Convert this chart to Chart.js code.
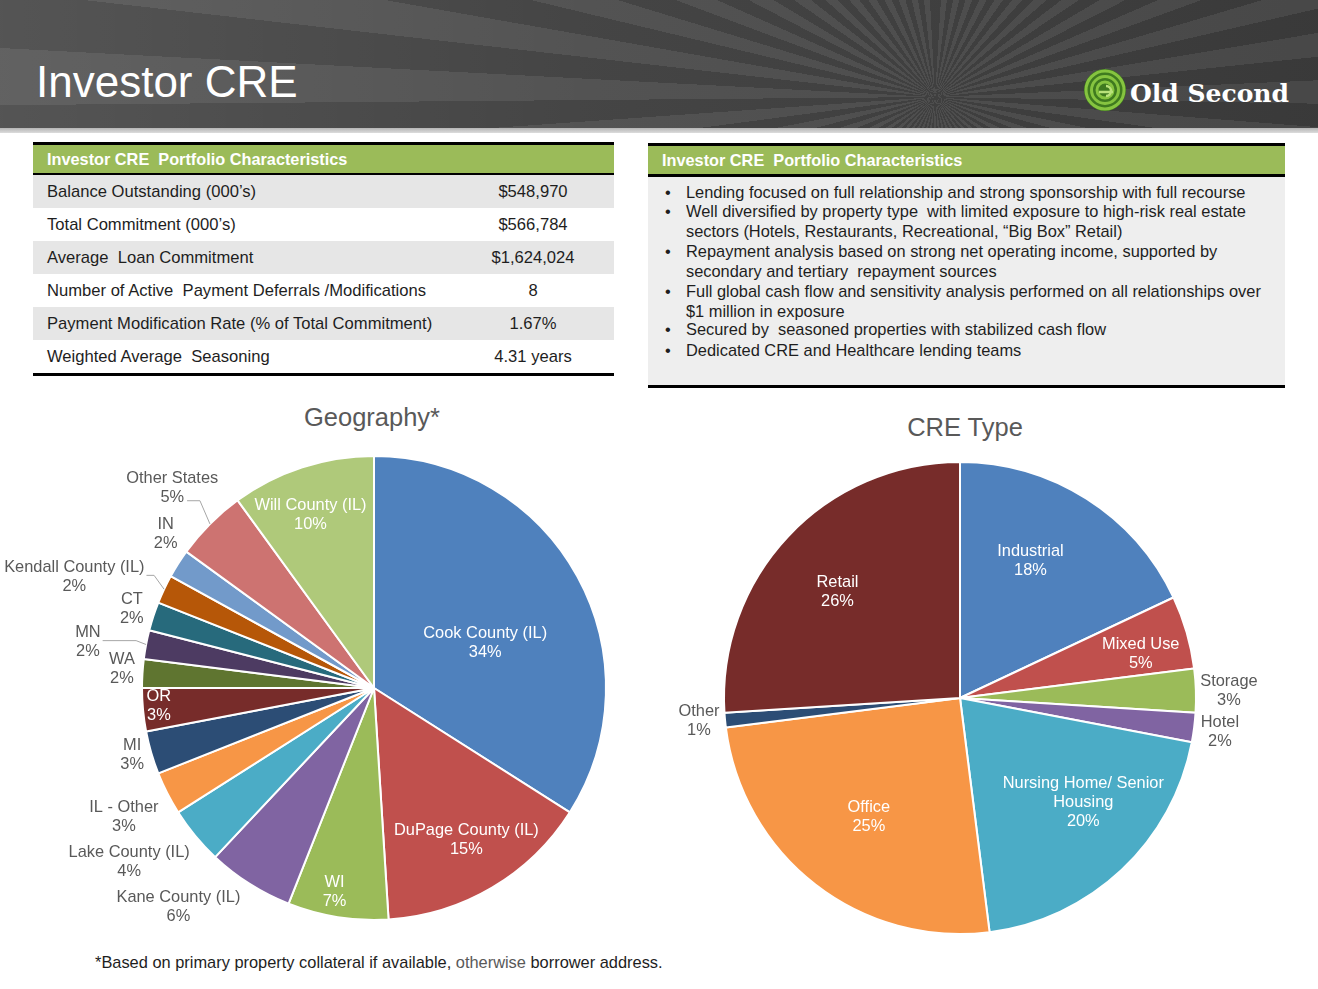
<!DOCTYPE html>
<html><head><meta charset="utf-8">
<script src="https://cdn.jsdelivr.net/npm/chart.js@4.4.0/dist/chart.umd.min.js"></script>
<style>
html,body{margin:0;padding:0}
body{width:1318px;height:989px;position:relative;background:#fff;font-family:"Liberation Sans",Arial,sans-serif;overflow:hidden}
.abs{position:absolute}
#header{left:0;top:0;width:1318px;height:128px;
 background:
  linear-gradient(90deg, rgba(255,255,255,0.12) 0%, rgba(255,255,255,0.04) 45%, rgba(0,0,0,0.06) 100%),
  repeating-conic-gradient(from 0deg at 935px 97px, #3d3d3d 0deg 3.5deg, #4c4c4c 3.5deg 7deg);}
#hline{left:0;top:128px;width:1318px;height:5px;background:linear-gradient(#b5b5b5,#dcdcdc)}
#title{left:36px;top:55px;color:#fff;font-size:44px;line-height:54px}
#logoText{left:1130px;top:76px;color:#fff;font-family:"DejaVu Serif",serif;font-weight:bold;font-size:25px;line-height:36px}
.bar{background:#000}
.green{background:#9BBB59;color:#fff;font-weight:bold;font-size:16.3px;line-height:28px;white-space:pre}
.row{height:33px;line-height:33px;font-size:16.6px;color:#1e1e1e}
.row .v{position:absolute;left:400px;width:200px;text-align:center}
.bl{font-size:16.4px;line-height:19.5px;color:#1e1e1e;left:686px;white-space:nowrap}
.bl .dot{position:absolute;left:-21px}
.ptitle{color:#595959;font-size:25.5px;line-height:30px;text-align:center;width:300px}
#foot{left:95px;top:951px;font-size:16.4px;line-height:22px;color:#1e1e1e;white-space:nowrap}
</style></head>
<body>
<div id="header" class="abs"></div>
<div id="hline" class="abs"></div>
<div id="title" class="abs">Investor CRE</div>
<svg class="abs" style="left:1082px;top:66px" width="48" height="48" viewBox="0 0 48 48">
 <circle cx="23" cy="24" r="21" fill="#3f7a1f"/>
 <circle cx="23" cy="24" r="19" fill="none" stroke="#86c440" stroke-width="3"/>
 <circle cx="23" cy="24" r="13.5" fill="none" stroke="#86c440" stroke-width="3"/>
 <circle cx="23" cy="24" r="8" fill="none" stroke="#86c440" stroke-width="3"/>
 <path d="M17 26 H31 M24 20 a5 5 0 1 1 0 10" fill="none" stroke="#b9e27a" stroke-width="2.5"/>
</svg>
<div id="logoText" class="abs">Old Second</div>

<!-- left table -->
<div class="abs bar" style="left:33px;top:142px;width:581px;height:3px"></div>
<div class="abs green" style="left:33px;top:145px;width:567px;height:28px;padding-left:14px" id="ltHead"></div>
<div class="abs bar" style="left:33px;top:173px;width:581px;height:2px"></div>
<div class="abs" id="ltRows" style="left:33px;top:175px;width:581px"></div>
<div class="abs bar" style="left:33px;top:373px;width:581px;height:3px"></div>

<!-- right box -->
<div class="abs bar" style="left:648px;top:143px;width:637px;height:3px"></div>
<div class="abs green" style="left:648px;top:146px;width:623px;height:28px;padding-left:14px" id="rtHead"></div>
<div class="abs bar" style="left:648px;top:174px;width:637px;height:3px"></div>
<div class="abs" style="left:648px;top:177px;width:637px;height:208px;background:#eeeeee"></div>
<div id="bullets"></div>
<div class="abs bar" style="left:648px;top:385px;width:637px;height:3px"></div>

<div class="abs ptitle" id="geoTitle" style="left:222px;top:402px"></div>
<div class="abs ptitle" id="creTitle" style="left:815px;top:412px"></div>

<canvas id="geo" class="abs" width="748" height="486" style="left:0;top:445px"></canvas>
<canvas id="cre" class="abs" width="660" height="494" style="left:630px;top:451px"></canvas>

<div id="foot" class="abs">*Based on primary property collateral if available, <span style="color:#595959">otherwise</span> borrower address.</div>

<script>
// ---------- data ----------
const tableTitle = 'Investor CRE  Portfolio Characteristics';
const tableLabels = ["Balance Outstanding (000\u2019s)","Total Commitment (000\u2019s)","Average  Loan Commitment","Number of Active  Payment Deferrals /Modifications","Payment Modification Rate (% of Total Commitment)","Weighted Average  Seasoning"];
const tableValues = ["$548,970","$566,784","$1,624,024","8","1.67%","4.31 years"];
const bulletLines = [
  ["Lending focused on full relationship and strong sponsorship with full recourse"],
  ["Well diversified by property type  with limited exposure to high-risk real estate","sectors (Hotels, Restaurants, Recreational, \u201cBig Box\u201d Retail)"],
  ["Repayment analysis based on strong net operating income, supported by","secondary and tertiary  repayment sources"],
  ["Full global cash flow and sensitivity analysis performed on all relationships over","$1 million in exposure"],
  ["Secured by  seasoned properties with stabilized cash flow"],
  ["Dedicated CRE and Healthcare lending teams"]
];
const geoTitleText = 'Geography*';
const geoCategories = ['Cook County (IL)','DuPage County (IL)','WI','Kane County (IL)','Lake County (IL)','IL - Other','MI','OR','WA','MN','CT','Kendall County (IL)','IN','Other States','Will County (IL)'];
const geoValues = [34,15,7,6,4,3,3,3,2,2,2,2,2,5,10];
const creTitleText = 'CRE Type';
const creCategories = ['Industrial','Mixed Use','Storage','Hotel','Nursing Home/ Senior Housing','Office','Other','Retail'];
const creValues = [18,5,3,2,20,25,1,26];

// ---------- styles ----------
const geoColors = ['#4F81BD','#C0504D','#9BBB59','#8064A2','#4BACC6','#F79646','#2C4D75','#772C2A','#5F7530','#4D3B62','#276A7C','#B65708','#729ACA','#CD7371','#AFC97A'];
const creColors = ['#4F81BD','#C0504D','#9BBB59','#8064A2','#4BACC6','#F79646','#2C4D75','#772C2A'];
const geoLabelRadius = [0.52,0.76,0.89,1.26,1.29,1.21,1.08,0.93,1.09,1.25,1.10,1.38,1.12,1.23,0.80];
const geoLabelShift  = [6,-1,2,9.6,4.5,0,1,1,1,-1.4,0.4,-4.6,4.3,0,-2];
const geoInside = [0,1,2,7,14];
const geoLeaders = {9:'center',11:'center',13:'last'};
const creLabelRadius = [0.66,0.79,1.14,1.11,0.68,0.63,1.11,0.69];
const creLabelShift  = [-5.5,2,0,0,-7,0,0.6,-2];
const creInside = [0,1,4,5,7];

// ---------- html parts ----------
document.getElementById('ltHead').textContent = tableTitle;
document.getElementById('rtHead').textContent = tableTitle;
document.getElementById('geoTitle').textContent = geoTitleText;
document.getElementById('creTitle').textContent = creTitleText;
const rows = document.getElementById('ltRows');
tableLabels.forEach((l,i)=>{
  const d = document.createElement('div');
  d.className='row'; d.style.position='relative';
  d.style.background = i%2===0 ? '#e6e6e6' : '#ffffff';
  d.innerHTML = '<span style="padding-left:14px;white-space:pre">'+l+'</span><span class="v">'+tableValues[i]+'</span>';
  rows.appendChild(d);
});
const bulletCenters = [193,212,252,292,330,351];
const bw = document.getElementById('bullets');
bulletLines.forEach((ls,i)=>{
  const d = document.createElement('div');
  d.className='abs bl';
  d.style.top = (bulletCenters[i]-9.75)+'px';
  d.innerHTML = '<span class="dot">\u2022</span>' + ls.map(s=>s.replace(/  /g,'&nbsp; ')).join('<br>');
  bw.appendChild(d);
});

// ---------- label plugin ----------
function wrapText(ctx, text, maxW){
  const words = text.split(' '); const out=[]; let cur='';
  words.forEach(w=>{
    const t = cur ? cur+' '+w : w;
    if (cur && ctx.measureText(t).width > maxW){ out.push(cur); cur=w; } else cur=t;
  });
  if (cur) out.push(cur);
  return out;
}
const sliceLabels = {
  id:'sliceLabels',
  afterDatasetsDraw(chart, args, o){
    const ctx = chart.ctx;
    const meta = chart.getDatasetMeta(0);
    const data = chart.data.datasets[0].data;
    ctx.save();
    ctx.font = o.font;
    ctx.textAlign='center'; ctx.textBaseline='middle';
    meta.data.forEach((arc,i)=>{
      const p = arc.getProps(['x','y','startAngle','endAngle','outerRadius'], true);
      const mid = (p.startAngle+p.endAngle)/2;
      const ang = mid + o.shift[i]*Math.PI/180;
      const r = p.outerRadius*o.radius[i];
      const lx = p.x + Math.cos(ang)*r, ly = p.y + Math.sin(ang)*r;
      const lines = wrapText(ctx, chart.data.labels[i], o.maxWidth).concat([data[i]+'%']);
      const lh = o.lineHeight;
      const y0 = ly - (lines.length-1)*lh/2;
      ctx.fillStyle = o.inside.includes(i) ? '#ffffff' : '#595959';
      lines.forEach((t,k)=>ctx.fillText(t, lx, y0+k*lh+1.5));
      const ld = o.leaders && o.leaders[i];
      if (ld){
        let sx, sy;
        if (ld==='last'){ const k=lines.length-1; sx = lx + ctx.measureText(lines[k]).width/2 + 3; sy = y0+k*lh+5; }
        else { sx = lx + Math.max(...lines.map(t=>ctx.measureText(t).width))/2 + 2; sy = ly; }
        const ex = p.x + Math.cos(mid)*p.outerRadius, ey = p.y + Math.sin(mid)*p.outerRadius;
        ctx.strokeStyle='#a6a6a6'; ctx.lineWidth=1;
        ctx.beginPath(); ctx.moveTo(sx,sy); ctx.lineTo(Math.max(sx, ex-10), sy); ctx.lineTo(ex,ey); ctx.stroke();
      }
    });
    ctx.restore();
  }
};
Chart.register(sliceLabels);

function makePie(id, labels, values, colors, lab, pad){
  new Chart(document.getElementById(id), {
    type:'pie',
    data:{labels, datasets:[{data:values, backgroundColor:colors, borderColor:'#ffffff', borderWidth:2}]},
    options:{responsive:false, animation:false, layout:{padding:pad},
      plugins:{legend:{display:false}, tooltip:{enabled:false}, sliceLabels:lab}}
  });
}
makePie('geo', geoCategories, geoValues, geoColors,
  {font:'16.4px "Liberation Sans", Arial, sans-serif', lineHeight:19, radius:geoLabelRadius, shift:geoLabelShift, inside:geoInside, leaders:geoLeaders, maxWidth:999},
  {top:10,bottom:10});
makePie('cre', creCategories, creValues, creColors,
  {font:'16.4px "Liberation Sans", Arial, sans-serif', lineHeight:19, radius:creLabelRadius, shift:creLabelShift, inside:creInside, leaders:null, maxWidth:180},
  {top:10,bottom:10});
</script>
</body></html>
